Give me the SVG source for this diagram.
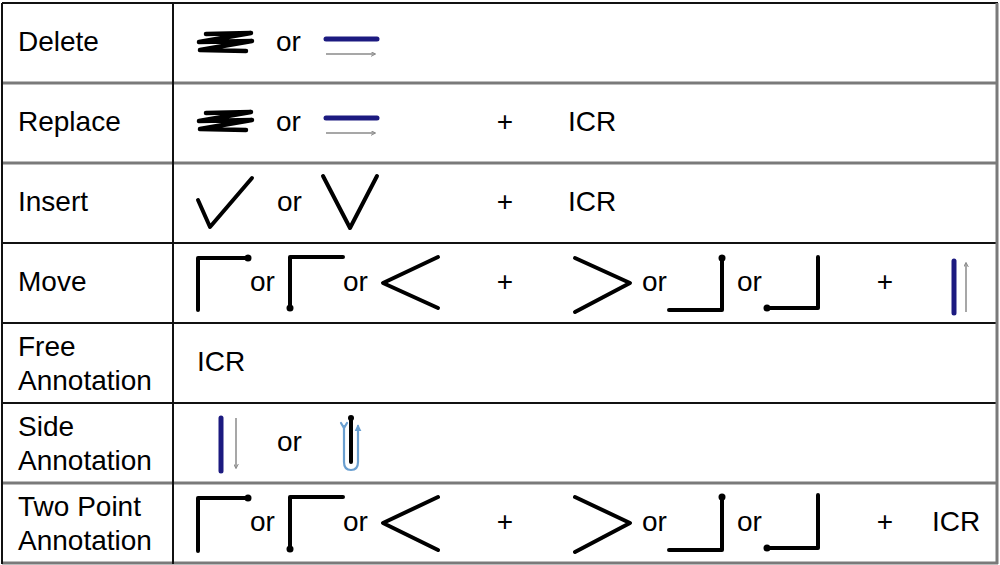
<svg xmlns="http://www.w3.org/2000/svg" width="1000" height="565" viewBox="0 0 1000 565">
<defs>
<style>
.t{font-family:"Liberation Sans",Arial,sans-serif;font-size:28px;fill:#000}
.pl{text-anchor:middle}
.g1{stroke:#111;stroke-width:2}
.g2{stroke:#7a7a7a;stroke-width:3}
.s{fill:none;stroke:#000;stroke-width:4;stroke-linecap:round;stroke-linejoin:round}
.z{fill:none;stroke:#000;stroke-width:4.5;stroke-linecap:round;stroke-linejoin:round}
.b{fill:none;stroke:#1c1a80;stroke-width:5;stroke-linecap:round}
.a{fill:none;stroke:#8a8a8a;stroke-width:1.5;marker-end:url(#ah)}
.lb{fill:none;stroke:#6a9fd0;stroke-width:2.2;stroke-linecap:round;stroke-linejoin:round}
</style>
<marker id="ah" viewBox="0 0 8 8" refX="7" refY="4" markerWidth="5" markerHeight="5" orient="auto" markerUnits="userSpaceOnUse">
<path d="M0,0 L8,4 L0,8" fill="none" stroke="#8a8a8a" stroke-width="1.6"/>
</marker>
<marker id="ahb" viewBox="0 0 8 8" refX="6" refY="4" markerWidth="7" markerHeight="7" orient="auto" markerUnits="userSpaceOnUse">
<path d="M0,0 L8,4 L0,8 Z" fill="#6a9fd0"/>
</marker>
</defs>
<rect width="1000" height="565" fill="#fff"/>
<g id="grid">
<line class="g1" x1="2" y1="3" x2="998" y2="3"/>
<line class="g2" x1="2" y1="83" x2="998" y2="83"/>
<line class="g2" x1="2" y1="163" x2="998" y2="163"/>
<line class="g1" x1="2" y1="243" x2="998" y2="243"/>
<line class="g1" x1="2" y1="323" x2="998" y2="323"/>
<line class="g1" x1="2" y1="403" x2="998" y2="403"/>
<line class="g2" x1="2" y1="483" x2="998" y2="483"/>
<line class="g2" x1="2" y1="563" x2="998" y2="563"/>
<line class="g1" x1="2" y1="3" x2="2" y2="564"/>
<line class="g1" x1="173" y1="3" x2="173" y2="564"/>
<line class="g2" x1="997" y1="3" x2="997" y2="564"/>
</g>
<g id="connectors"></g>
<g id="row-delete">
<text class="t" x="18" y="51">Delete</text>
<path class="z" d="M206,34 L251,33 L199,42 L252,41 L200,50 L246,51"/>
<text class="t" x="276" y="51">or</text>
<line class="b" x1="326" y1="39" x2="377" y2="39"/>
<line class="a" x1="326" y1="54" x2="375" y2="54"/>
</g>
<g id="row-replace">
<text class="t" x="18" y="131">Replace</text>
<path class="z" d="M206,113 L251,112 L199,121 L252,120 L200,129 L246,130"/>
<text class="t" x="276" y="131">or</text>
<line class="b" x1="326" y1="118" x2="377" y2="118"/>
<line class="a" x1="326" y1="133" x2="375" y2="133"/>
<text class="t pl" x="505" y="131">+</text>
<text class="t" x="568" y="131">ICR</text>
</g>
<g id="row-insert">
<text class="t" x="18" y="211">Insert</text>
<path class="s" d="M198,200 L210,227 L252,178"/>
<text class="t" x="277" y="211">or</text>
<path class="s" d="M323,176 L350,228 L377,176"/>
<text class="t pl" x="505" y="211">+</text>
<text class="t" x="568" y="211">ICR</text>
</g>
<g id="row-move">
<text class="t" x="18" y="291">Move</text>
<path class="s" d="M198,310 V258 H248"/><circle cx="248" cy="258" r="3.5"/>
<text class="t" x="250" y="291">or</text>
<path class="s" d="M290,308 V257 H343"/><circle cx="290" cy="308" r="3.5"/>
<text class="t" x="343" y="291">or</text>
<path class="s" d="M438,257 L383,283 L438,308"/>
<text class="t pl" x="505" y="291">+</text>
<path class="s" d="M575,258 L630,283 L575,312"/>
<text class="t" x="642" y="291">or</text>
<path class="s" d="M669,310 H722 V258"/><circle cx="722" cy="258" r="3.5"/>
<text class="t" x="737" y="291">or</text>
<path class="s" d="M767,308 H818 V257"/><circle cx="767" cy="308" r="3.5"/>
<text class="t pl" x="885" y="291">+</text>
<line class="b" x1="954" y1="261" x2="954" y2="313"/>
<line class="a" x1="966" y1="312" x2="966" y2="263"/>
</g>
<g id="row-free">
<text class="t" x="18" y="356">Free</text>
<text class="t" x="18" y="390">Annotation</text>
<text class="t" x="197" y="371">ICR</text>
</g>
<g id="row-side">
<text class="t" x="18" y="436">Side</text>
<text class="t" x="18" y="470">Annotation</text>
<line class="b" x1="221" y1="418" x2="221" y2="471"/>
<line class="a" x1="236" y1="418" x2="236" y2="468"/>
<text class="t" x="277" y="451">or</text>
<path class="lb" d="M344,426 V462 Q344,470 351,470 Q358,470 358,462 V426" marker-end="url(#ahb)"/>
<path class="lb" d="M341,423 L344,428 L347,423"/>
<line x1="351" y1="418" x2="351" y2="462" stroke="#000" stroke-width="4" stroke-linecap="round"/>
<circle cx="351" cy="418" r="3"/>
</g>
<g id="row-two-point">
<text class="t" x="18" y="516">Two Point</text>
<text class="t" x="18" y="550">Annotation</text>
<path class="s" d="M198,551 V498 H248"/><circle cx="248" cy="498" r="3.5"/>
<text class="t" x="250" y="531">or</text>
<path class="s" d="M290,549 V497 H343"/><circle cx="290" cy="549" r="3.5"/>
<text class="t" x="343" y="531">or</text>
<path class="s" d="M438,497 L383,523 L438,550"/>
<text class="t pl" x="505" y="531">+</text>
<path class="s" d="M575,497 L630,523 L575,552"/>
<text class="t" x="642" y="531">or</text>
<path class="s" d="M669,550 H722 V497"/><circle cx="722" cy="497" r="3.5"/>
<text class="t" x="737" y="531">or</text>
<path class="s" d="M767,548 H818 V495"/><circle cx="767" cy="548" r="3.5"/>
<text class="t pl" x="885" y="531">+</text>
<text class="t" x="932" y="531">ICR</text>
</g>
</svg>
